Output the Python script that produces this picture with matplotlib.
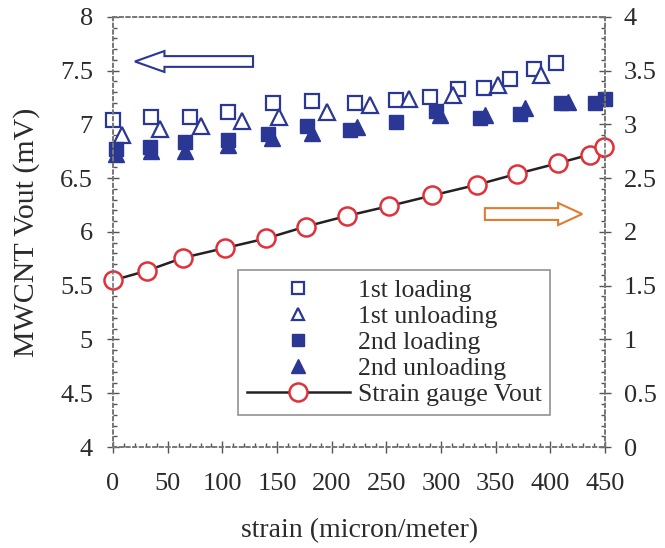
import matplotlib.pyplot as plt
import numpy as np
from matplotlib.patches import FancyArrow
from matplotlib.ticker import MultipleLocator, FuncFormatter
from matplotlib.lines import Line2D

plt.rcParams['font.family'] = ['Liberation Serif', 'DejaVu Serif']

# MWCNT output (mV), left axis
load1_x = [0, 35, 70, 105, 146, 182, 221, 259, 290, 315, 339, 363, 385, 405]
load1_y = [7.04, 7.07, 7.07, 7.12, 7.20, 7.22, 7.20, 7.23, 7.26, 7.33, 7.34, 7.42, 7.52, 7.57]

unload1_x = [8, 43, 80, 118, 152, 196, 235, 271, 311, 352, 391]
unload1_y = [6.90, 6.96, 6.99, 7.03, 7.07, 7.12, 7.18, 7.24, 7.27, 7.37, 7.46]

load2_x = [3, 34, 66, 105, 142, 177, 217, 259, 295, 336, 372, 410, 441, 450]
load2_y = [6.77, 6.79, 6.84, 6.86, 6.91, 6.99, 6.95, 7.02, 7.13, 7.06, 7.10, 7.20, 7.20, 7.24]

unload2_x = [3, 35, 66, 105, 145, 182, 223, 299, 340, 377, 416]
unload2_y = [6.73, 6.75, 6.75, 6.81, 6.87, 6.92, 6.98, 7.09, 7.09, 7.15, 7.21]

# strain gauge output, right axis
gauge_x = [0, 31, 64, 102, 140, 176, 214, 252, 292, 333, 369, 407, 436, 449]
gauge_y = [1.55, 1.64, 1.76, 1.85, 1.94, 2.05, 2.15, 2.24, 2.34, 2.44, 2.54, 2.64, 2.72, 2.79]

blue = '#2a3794'
red = '#e0303a'
orange = '#e07b30'
gray = '#555555'
txt = '#2b2b2b'

fig = plt.figure(figsize=(6.65, 5.48), dpi=100)
ax = fig.add_axes([0.17, 0.1843, 0.74, 0.7847])
ax2 = ax.twinx()

ax.plot(load1_x, load1_y, 's', ms=10, mfc='white', mec=blue, mew=1.6, ls='none', clip_on=False)
ax.plot(unload1_x, unload1_y, '^', ms=11.5, mfc='white', mec=blue, mew=1.6, ls='none', clip_on=False)
ax.plot(load2_x, load2_y, 's', ms=10, mfc=blue, mec=blue, ls='none', clip_on=False)
ax.plot(unload2_x, unload2_y, '^', ms=11.5, mfc=blue, mec=blue, ls='none', clip_on=False)
ax2.plot(gauge_x, gauge_y, '-o', color='#222222', lw=1.8, ms=13,
         mfc='white', mec=red, mew=1.8, clip_on=False)

ax.set_xlim(0, 450)
ax.set_ylim(4, 8)
ax2.set_ylim(0, 4)

fmt = FuncFormatter(lambda v, p: f'{v:g}')
for a in (ax, ax2):
    a.yaxis.set_major_locator(MultipleLocator(0.5))
    a.yaxis.set_minor_locator(MultipleLocator(0.1))
    a.yaxis.set_major_formatter(fmt)
    a.tick_params(which='major', direction='inout', length=9, width=1, color=gray,
                  labelsize=19, labelcolor=txt, pad=6)
    a.tick_params(which='minor', direction='in', length=3, width=1, color=gray)
    for s in a.spines.values():
        s.set_linestyle((0, (2, 2)))
        s.set_color('#777777')
        s.set_linewidth(1.2)
ax.xaxis.set_major_locator(MultipleLocator(50))
ax.xaxis.set_minor_locator(MultipleLocator(10))
ax.tick_params(axis='x', pad=14)
ax.tick_params(axis='y', pad=10)
ax2.tick_params(axis='y', pad=9)

ax.set_xlabel('strain (micron/meter)', fontsize=20, color=txt)
ax.set_ylabel('MWCNT Vout (mV)', fontsize=21.5, color=txt)
ax.xaxis.set_label_coords(0.5, -0.165)
ax.yaxis.set_label_coords(-0.148, 0.5)

# direction arrows
ax.add_patch(FancyArrow(128, 7.586, -108, 0, width=0.10, head_width=0.195,
                        head_length=27, length_includes_head=True,
                        fc='white', ec=blue, lw=1.5, zorder=5))
ax2.add_patch(FancyArrow(340, 2.167, 89, 0, width=0.11, head_width=0.205,
                         head_length=22, length_includes_head=True,
                         fc='white', ec=orange, lw=1.5, zorder=5))

handles = [
    Line2D([], [], marker='s', ls='none', ms=8, mfc='white', mec=blue, mew=1.6),
    Line2D([], [], marker='^', ls='none', ms=9, mfc='white', mec=blue, mew=1.6),
    Line2D([], [], marker='s', ls='none', ms=8, mfc=blue, mec=blue),
    Line2D([], [], marker='^', ls='none', ms=10, mfc=blue, mec=blue),
    Line2D([], [], marker='o', color='#222222', lw=1.8, ms=13, mfc='white', mec=red, mew=1.8),
]
labels = ['1st loading', '1st unloading', '2nd loading', '2nd unloading', 'Strain gauge Vout']
leg = ax2.legend(handles, labels, loc='upper left', bbox_to_anchor=(0.254, 0.412),
                 borderaxespad=0, fontsize=18.5, frameon=True, fancybox=False,
                 handlelength=4.0, handletextpad=0.3, labelspacing=0.12,
                 borderpad=0.35, labelcolor=txt)
leg.get_frame().set_edgecolor('#777777')
leg.get_frame().set_linewidth(1.2)

fig.savefig('out.png', dpi=100)
